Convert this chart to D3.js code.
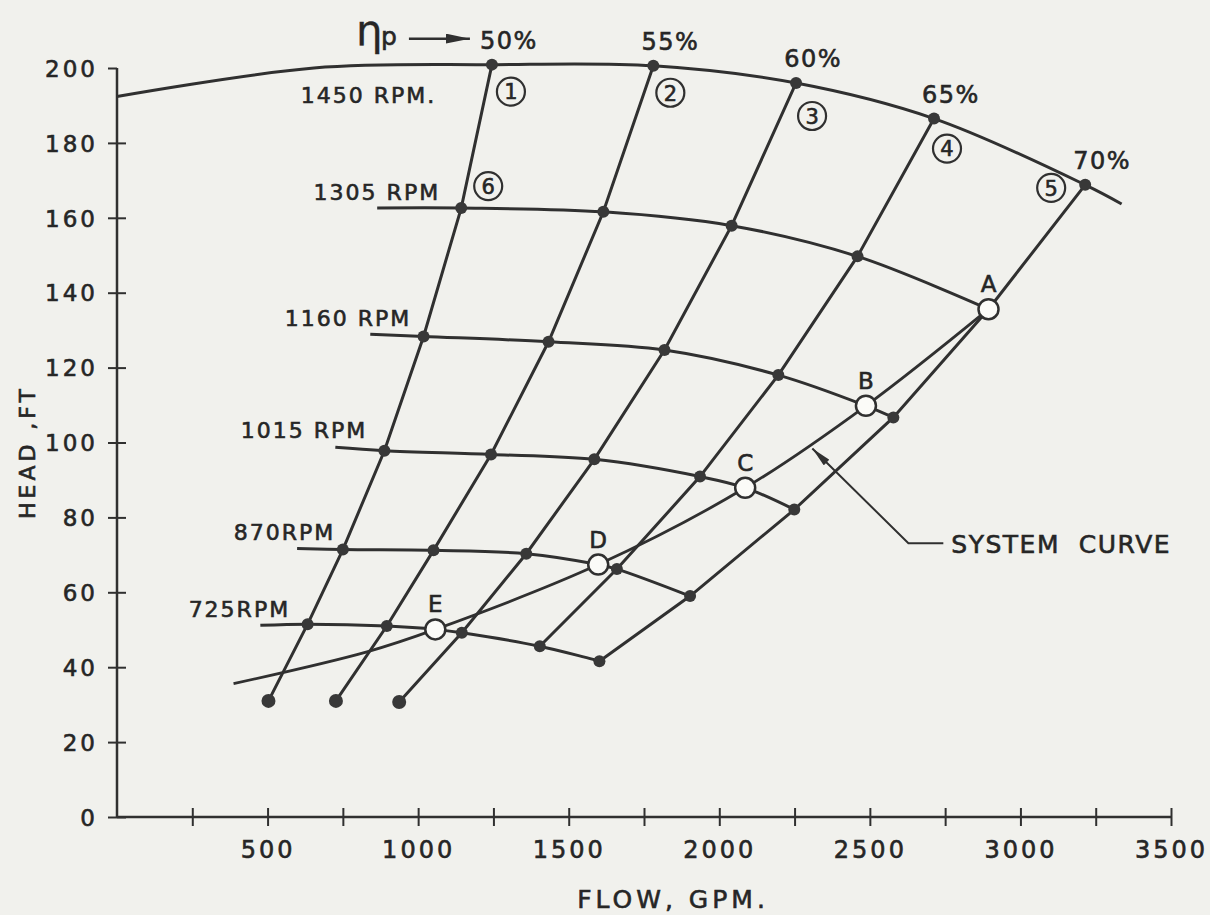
<!DOCTYPE html>
<html>
<head>
<meta charset="utf-8">
<script src="https://cdn.jsdelivr.net/npm/d3@7"></script>
<style>
  body { margin: 0; background: #f1f1ed; }
  svg { display: block; }
  text { font-family: "DejaVu Sans", sans-serif; fill: #262626; stroke: #262626; stroke-width: 0.6px; }
</style>
</head>
<body>
<div id="chart"></div>
<script>
// Pump head-flow curves at reduced speeds, iso-efficiency lines and system curve

// --- Data ---
const speeds = ["1450 RPM.", "1305 RPM", "1160 RPM", "1015 RPM", "870RPM", "725RPM"];
const efficiencies = ["50%", "55%", "60%", "65%", "70%"];
const effNumbers = ["1", "2", "3", "4", "5"];

// where each speed curve (row) crosses each efficiency line (column)
const gridFlow = [
  [1245, 1781, 2255, 2713, 3215],   // 1450
  [1143, 1615, 2041, 2459, 2894],   // 1305
  [1018, 1433, 1818, 2196, 2578],   // 1160
  [888, 1242, 1585, 1936, 2249],    // 1015
  [750, 1051, 1359, 1660, 1903],    // 870
  [633, 896, 1145, 1404, 1602]      // 725
];
const gridHead = [
  [200.9, 200.6, 196.0, 186.5, 168.8],
  [162.6, 161.6, 157.9, 149.7, 135.6],
  [128.3, 126.9, 124.7, 118.0, 106.7],
  [97.8, 96.8, 95.5, 90.9, 82.1],
  [71.4, 71.2, 70.3, 66.2, 59.0],
  [51.5, 51.0, 49.2, 45.6, 41.6]
];

// left end of each speed curve
const startFlow = [0, 864, 841, 725, 598, 476];
const startHead = [192.4, 162.6, 128.9, 98.7, 71.7, 51.2];

// 1450 RPM: knee near the axis, and the right end
const extraFlow1450 = [654, 3336];
const extraHead1450 = [200.0, 163.7];

// lower ends of the 50, 55 and 60% lines
const tailFlow = [503, 727, 937];
const tailHead = [31.0, 31.0, 30.7];

// operating points (open circles)
const opNames = ["A", "B", "C", "D", "E"];
const opRow = [1, 2, 3, 4, 5];
const opFlow = [2894, 2487, 2086, 1598, 1057];
const opHead = [135.6, 109.8, 87.9, 67.4, 50.1];

// system curve
const sysFlow = [387, 830, 1057, 1598, 2086, 2487, 2894];
const sysHead = [35.6, 44.1, 50.1, 67.4, 87.9, 109.8, 135.6];

const xTicks = d3.range(250, 3501, 250);
const yTicks = d3.range(0, 201, 20);

// label placement (flow, head) for speed names, text end
const speedLabelAt = [[1060, 190.7], [1073, 164.8], [977, 131.1], [831, 101.2], [725, 73.9], [575, 53.3]];

// --- Chart ---
const W = 1210, H = 915;
const ink = "#303030";

const svg = d3.select("#chart").append("svg")
  .attr("width", W)
  .attr("height", H);

svg.append("rect").attr("width", W).attr("height", H).attr("fill", "#f1f1ed");

const x = d3.scaleLinear().domain([0, 3500]).range([117, 1171]);
const y = d3.scaleLinear().domain([0, 200]).range([817, 68]);

// --- Axes ---
const xAxis = svg.append("g")
  .attr("transform", `translate(0,${y(0)})`)
  .call(d3.axisBottom(x).tickValues(xTicks)
    .tickFormat(d => d % 500 === 0 ? d : "")
    .tickSizeOuter(0));
xAxis.attr("color", ink).attr("font-family", null).attr("font-size", null);
xAxis.select(".domain").attr("d", `M${x(0)},0H${x(3500)}`).attr("stroke-width", 2.5);
xAxis.selectAll(".tick line").attr("y1", -9).attr("y2", 9).attr("stroke-width", 2);
xAxis.selectAll(".tick text")
  .attr("y", 41).attr("dy", 0)
  .style("font-size", "24px")
  .style("letter-spacing", "3px");

const yAxis = svg.append("g")
  .attr("transform", `translate(${x(0)},0)`)
  .call(d3.axisLeft(y).tickValues(yTicks).tickSizeOuter(0));
yAxis.attr("color", ink).attr("font-family", null).attr("font-size", null);
yAxis.select(".domain").attr("d", `M0,${y(0)}V${y(200)}`).attr("stroke-width", 2.5);
yAxis.selectAll(".tick line").attr("x1", -9).attr("x2", d => d === 200 ? 0 : 9).attr("stroke-width", 2);
yAxis.selectAll(".tick text")
  .attr("x", -19).attr("dy", "0.36em")
  .style("font-size", "23px")
  .style("letter-spacing", "3px");

svg.append("text")
  .attr("x", 673)
  .attr("y", 908)
  .attr("text-anchor", "middle")
  .style("font-size", "25px")
  .style("letter-spacing", "4px")
  .text("FLOW, GPM.");

svg.append("text")
  .attr("transform", "translate(35,452) rotate(-90)")
  .attr("text-anchor", "middle")
  .style("font-size", "22px")
  .style("letter-spacing", "4px")
  .text("HEAD ,FT");

// --- Build series ---
const speedCurves = speeds.map((name, i) => {
  let pts = [[startFlow[i], startHead[i]]];
  if (i === 0) pts.push([extraFlow1450[0], extraHead1450[0]]);
  gridFlow[i].forEach((f, j) => pts.push([f, gridHead[i][j]]));
  const k = opRow.indexOf(i);
  if (k >= 0) pts.push([opFlow[k], opHead[k]]);
  if (i === 0) pts.push([extraFlow1450[1], extraHead1450[1]]);
  pts = d3.sort(pts, d => d[0]);
  return pts.filter((p, n) => n === 0 || Math.abs(p[0] - pts[n - 1][0]) > 1);
});

const effLines = efficiencies.map((e, j) => {
  const pts = gridFlow.map((row, i) => [row[j], gridHead[i][j]]);
  if (j < tailFlow.length) pts.push([tailFlow[j], tailHead[j]]);
  return pts;
});

const sysCurve = sysFlow.map((f, i) => [f, sysHead[i]]);

const smooth = d3.line().x(d => x(d[0])).y(d => y(d[1])).curve(d3.curveCatmullRom.alpha(0.5));
const straight = d3.line().x(d => x(d[0])).y(d => y(d[1]));

// --- Lines ---
svg.append("g").selectAll("path")
  .data(speedCurves)
  .join("path")
  .attr("d", smooth)
  .attr("fill", "none")
  .attr("stroke", ink)
  .attr("stroke-width", 3);

svg.append("g").selectAll("path")
  .data(effLines)
  .join("path")
  .attr("d", straight)
  .attr("fill", "none")
  .attr("stroke", ink)
  .attr("stroke-width", 3);

svg.append("path")
  .datum(sysCurve)
  .attr("d", smooth)
  .attr("fill", "none")
  .attr("stroke", ink)
  .attr("stroke-width", 2.8);

// --- Dots ---
const gridPts = gridFlow.flatMap((row, i) => row.map((f, j) => [f, gridHead[i][j]]));
svg.append("g").selectAll("circle")
  .data(gridPts)
  .join("circle")
  .attr("cx", d => x(d[0]))
  .attr("cy", d => y(d[1]))
  .attr("r", 6)
  .attr("fill", "#383838");

svg.append("g").selectAll("circle")
  .data(tailFlow.map((f, i) => [f, tailHead[i]]))
  .join("circle")
  .attr("cx", d => x(d[0]))
  .attr("cy", d => y(d[1]))
  .attr("r", 7)
  .attr("fill", "#383838");

const ops = svg.append("g").selectAll("g")
  .data(opNames.map((n, i) => ({ name: n, flow: opFlow[i], head: opHead[i] })))
  .join("g")
  .attr("transform", d => `translate(${x(d.flow)},${y(d.head)})`);

ops.append("circle")
  .attr("r", 10)
  .attr("fill", "#fbfbf8")
  .attr("stroke", ink)
  .attr("stroke-width", 2.5);

ops.append("text")
  .attr("y", -17)
  .attr("text-anchor", "middle")
  .style("font-size", "23px")
  .text(d => d.name);

// --- Speed labels ---
svg.append("g").selectAll("text")
  .data(speeds)
  .join("text")
  .attr("x", (d, i) => x(speedLabelAt[i][0]))
  .attr("y", (d, i) => y(speedLabelAt[i][1]))
  .attr("text-anchor", "end")
  .style("font-size", "22px")
  .style("letter-spacing", "2px")
  .text(d => d);

// --- Efficiency labels along the 1450 RPM curve ---
svg.append("g").selectAll("text")
  .data(efficiencies)
  .join("text")
  .attr("x", (d, j) => x(gridFlow[0][j]) + 17)
  .attr("y", (d, j) => y(gridHead[0][j]) - 16)
  .attr("text-anchor", "middle")
  .style("font-size", "24px")
  .style("letter-spacing", "1.5px")
  .text(d => d);

// circled numbers, offset from the point they name
const numOffsets = [[19, 27], [17, 27], [16, 33], [13, 30], [-34, 3]];
const numbered = effNumbers.map((n, j) => ({
  n, px: x(gridFlow[0][j]) + numOffsets[j][0], py: y(gridHead[0][j]) + numOffsets[j][1]
}));
numbered.push({ n: "6", px: x(gridFlow[1][0]) + 27, py: y(gridHead[1][0]) - 22 });

const nums = svg.append("g").selectAll("g")
  .data(numbered)
  .join("g")
  .attr("transform", d => `translate(${d.px},${d.py})`);
nums.append("circle")
  .attr("r", 14)
  .attr("fill", "none")
  .attr("stroke", ink)
  .attr("stroke-width", 2.2);
nums.append("text")
  .attr("text-anchor", "middle")
  .attr("dy", "0.37em")
  .style("font-size", "21px")
  .text(d => d.n);

// --- eta_p arrow over the 50% point ---
const topX = x(gridFlow[0][0]), topY = y(gridHead[0][0]);
svg.append("text")
  .attr("x", topX - 136)
  .attr("y", topY - 20)
  .style("font-size", "42px")
  .style("stroke-width", "0.3px")
  .text("η");
svg.append("text")
  .attr("x", topX - 111)
  .attr("y", topY - 20)
  .style("font-size", "25px")
  .text("p");

const defs = svg.append("defs");
const marker = (id, w, h) => defs.append("marker")
  .attr("id", id)
  .attr("viewBox", "0 0 10 10")
  .attr("preserveAspectRatio", "none")
  .attr("refX", 10).attr("refY", 5)
  .attr("markerWidth", w).attr("markerHeight", h)
  .attr("markerUnits", "userSpaceOnUse")
  .attr("orient", "auto-start-reverse")
  .append("path")
  .attr("d", "M0,0L10,5L0,10z")
  .attr("fill", ink);
marker("head", 24, 10);
marker("tip", 20, 8);

svg.append("line")
  .attr("x1", topX - 83).attr("x2", topX - 22)
  .attr("y1", topY - 26).attr("y2", topY - 26)
  .attr("stroke", ink)
  .attr("stroke-width", 2.5)
  .attr("marker-end", "url(#head)");

// --- System curve note ---
const noteTip = [2309, 98.4], noteElbow = [2628, 73.1], noteEnd = [2744, 73.1];
svg.append("path")
  .datum([noteTip, noteElbow, noteEnd])
  .attr("d", straight)
  .attr("fill", "none")
  .attr("stroke", ink)
  .attr("stroke-width", 2)
  .attr("marker-start", "url(#tip)");

svg.append("text")
  .attr("x", x(noteEnd[0]) + 8)
  .attr("y", y(noteEnd[1]) + 10)
  .style("font-size", "25px")
  .style("letter-spacing", "1.5px")
  .attr("xml:space", "preserve")
  .text("SYSTEM  CURVE");
</script>
</body>
</html>
